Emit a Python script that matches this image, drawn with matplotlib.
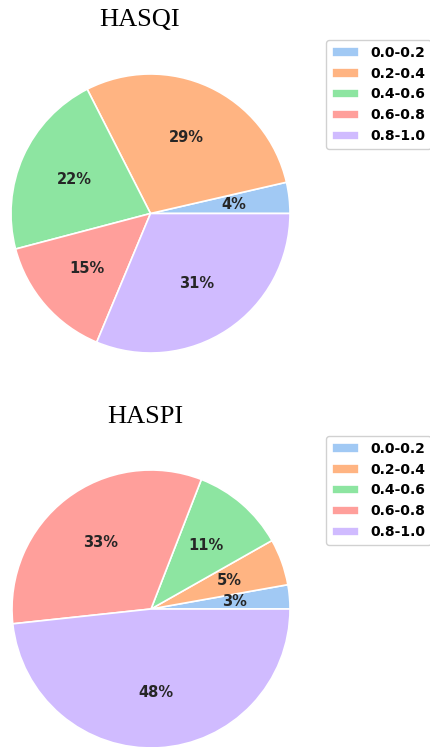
import matplotlib.pyplot as plt

# score bins and share of samples per bin (percent)
bins = ['0.0-0.2', '0.2-0.4', '0.4-0.6', '0.6-0.8', '0.8-1.0']
hasqi = [3.6, 28.9, 21.6, 14.6, 31.3]
haspi = [2.8, 5.4, 10.9, 32.6, 48.3]

colors = ['#a1c9f4', '#ffb482', '#8de5a1', '#ff9f9b', '#d0bbff']

W, H = 430, 747
fig = plt.figure(figsize=(W / 100, H / 100), dpi=100)


def px_axes(x0, y0, w, h):
    # pixel box (top-left origin) -> figure coords
    return fig.add_axes([x0 / W, 1 - (y0 + h) / H, w / W, h / H])


def draw(ax, vals, title, title_xy, leg_xy):
    wedges, _, autotexts = ax.pie(
        vals, colors=colors, autopct='%.0f%%', pctdistance=0.6,
        wedgeprops=dict(edgecolor='white', linewidth=1.2),
        textprops=dict(fontsize=10.5, fontweight='bold', color='#262626'))
    ax.set_aspect('equal')
    ax.set_xlim(-1, 1)
    ax.set_ylim(-1, 1)
    fig.text(title_xy[0] / W, 1 - title_xy[1] / H, title, ha='center', va='center',
             family='Liberation Serif', fontsize=19)
    fig.legend(wedges, bins, loc='upper left',
               bbox_to_anchor=(leg_xy[0] / W, 1 - leg_xy[1] / H),
               bbox_transform=fig.transFigure, borderaxespad=0,
               prop=dict(weight='bold', size=10), edgecolor='#cccccc',
               fancybox=True, framealpha=0.9)


ax1 = px_axes(11, 74, 279, 279)
draw(ax1, hasqi, 'HASQI', (140, 20), (326, 40))

ax2 = px_axes(12, 470, 278, 278)
draw(ax2, haspi, 'HASPI', (145, 417), (326, 436))

fig.savefig('out.png', dpi=100)
